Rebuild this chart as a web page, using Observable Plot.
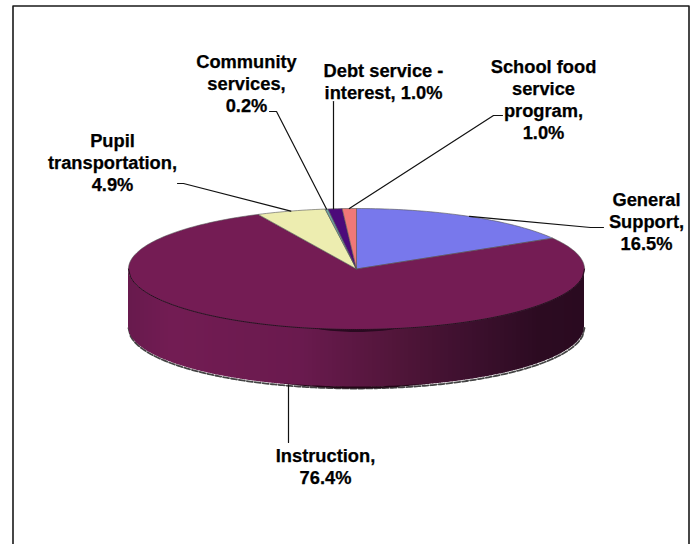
<!DOCTYPE html>
<html>
<head>
<meta charset="utf-8">
<script src="https://cdn.jsdelivr.net/npm/d3@7"></script>
<script src="https://cdn.jsdelivr.net/npm/@observablehq/plot@0.6"></script>
<style>
  html, body { margin: 0; padding: 0; background: #fff; }
  svg { display: block; }
</style>
</head>
<body>
<div id="chart"></div>
<script>
// Spending shares, clockwise from twelve o'clock
const categories = ["General Support", "Instruction", "Pupil transportation", "Community services", "Debt service - interest", "School food service program"];
const shares = [16.5, 76.4, 4.9, 0.2, 1.0, 1.0];
const sliceColors = ["#7878ec", "#741c54", "#ededb0", "#6fa3a0", "#4c0a7a", "#f07878"];
const labelPrefixes = ["General\nSupport,\n", "Instruction,\n", "Pupil\ntransportation,\n", "Community\nservices,\n", "Debt service -\ninterest, ", "School food\nservice\nprogram,\n"];

// Label placement: centre x and last baseline, leader tail and elbow
const labelX = [646, 325, 112, 246, 383, 543];
const labelY = [249, 483, 190, 111, 98, 138];
const leaderTails = [[603, 227], [288, 442], [177, 183], [269, 111], [333, 101], [502, 115]];
const leaderElbows = [[590, 227], null, [183, 183], [276, 111], null, [493, 115]];

// Tilted disc geometry
const W = 697, H = 544;
const cx = 356, cy = 268.5, rx = 228, ry = 60.5, depth = 58;

const rimX = a => cx + rx * Math.sin(a);
const rimY = a => cy - ry * Math.cos(a);
const toAngle = pct => pct / 100 * 2 * Math.PI;

// Top face: one closed outline per slice
let running = 0;
const slices = categories.map((name, i) => {
  const start = running;
  running += shares[i];
  return {name, start, end: running, mid: (start + running) / 2, color: sliceColors[i]};
});
const facePoints = slices.flatMap(s => {
  const steps = Math.max(2, Math.ceil((s.end - s.start) * 3));
  const arc = d3.range(steps + 1).map(k => {
    const a = toAngle(s.start + (s.end - s.start) * k / steps);
    return {name: s.name, color: s.color, x: rimX(a), y: rimY(a)};
  });
  const apex = {name: s.name, color: s.color, x: cx, y: cy};
  return [apex, ...arc, apex];
});

// Side wall: narrow vertical bands shaded from left to right
const shade = d3.scaleLinear()
  .domain([128, 170, 300, 400, 480, 540, 584])
  .range(["#681a4d", "#721c53", "#6a1a4e", "#501539", "#3a0f2c", "#2c0b21", "#2a0a20"]);
const frontY = x => cy + ry * Math.sqrt(Math.max(0, 1 - ((x - cx) / rx) ** 2));
const bandEdges = d3.range(cx - rx, cx + rx, 4);
const wallPoints = bandEdges.flatMap((x0, i) => {
  const x1 = Math.min(x0 + 4.6, cx + rx);
  const color = shade(x0 + 2);
  return d3.range(5).map(k => {
    const x = x0 + (x1 - x0) * k / 4;
    return {band: i, color, x, top: frontY(x), bottom: frontY(x) + depth};
  });
});

// Front rim curves
const rimXs = d3.range(cx - rx, cx + rx + 0.5, 2);
const topRim = rimXs.map(x => ({x, y: frontY(x)}));
const bottomRim = rimXs.map(x => ({x, y: frontY(x) + depth}));

// Dark crescents under the front of the top face and along the base
const crescent = (offset, spread, reach) => {
  const xs = d3.range(cx - reach, cx + reach + 0.5, 4);
  return [
    ...xs.map(x => ({x, y: frontY(x) + offset})),
    ...xs.slice().reverse().map(x => ({x, y: frontY(x) + offset + spread * (1 - ((x - cx) / reach) ** 2)}))
  ];
};

// Leader lines start at the slice's mid angle, on the top or lower rim
const leaders = slices.flatMap((s, i) => {
  const a = toAngle(s.mid);
  const tail = leaderTails[i], elbow = leaderElbows[i];
  const isFront = Math.cos(a) < 0;
  const sx = elbow ? rimX(a) : tail[0];
  const sy = (isFront ? frontY(sx) + depth : cy - ry * Math.sqrt(1 - ((sx - cx) / rx) ** 2));
  const path = elbow ? [[sx, sy], elbow, tail] : [[sx, sy], tail];
  return path.map(([x, y]) => ({name: s.name, x, y}));
});

const labels = slices.map((s, i) => ({
  text: labelPrefixes[i] + shares[i].toFixed(1) + "%",
  x: labelX[i],
  y: labelY[i]
}));

const frame = [{x: 12.5, y: H}, {x: 12.5, y: 5.5}, {x: 688.5, y: 5.5}, {x: 688.5, y: H}];

const chart = Plot.plot({
  width: W,
  height: H,
  margin: 0,
  x: {domain: [0, W], range: [0, W], axis: null},
  y: {domain: [0, H], range: [0, H], axis: null},
  style: {background: "#fff", fontFamily: "'Liberation Sans', Arial, sans-serif"},
  marks: [
    Plot.line(frame, {x: "x", y: "y", stroke: "#1a1a1a", strokeWidth: 1.6}),
    Plot.line(bottomRim.map(d => ({x: d.x, y: d.y + 1})), {x: "x", y: "y", stroke: "#444", strokeWidth: 1.8, strokeDasharray: "6,2"}),
    Plot.areaY(wallPoints, {x: "x", y1: "top", y2: "bottom", z: "band", fill: "color"}),
    Plot.line(crescent(depth - 1, 2, 75), {x: "x", y: "y", fill: "#230717"}),
    Plot.line(facePoints, {x: "x", y: "y", z: "name", fill: "color", stroke: "#555", strokeWidth: 0.6}),
    Plot.line(topRim, {x: "x", y: "y", stroke: "#2a0a20", strokeWidth: 1}),
    Plot.line(crescent(0, 2.5, 42), {x: "x", y: "y", fill: "#2a0a20"}),
    Plot.line(leaders, {x: "x", y: "y", z: "name", stroke: "#111", strokeWidth: 1.2}),
    Plot.text(labels, {
      x: "x", y: "y", text: "text",
      lineAnchor: "bottom", lineHeight: 1.2,
      fontSize: 18.3, fontWeight: 700, fill: "#000", stroke: "#000", strokeWidth: 0.25, textAnchor: "middle"
    })
  ]
});
document.getElementById("chart").append(chart);
</script>
</body>
</html>
